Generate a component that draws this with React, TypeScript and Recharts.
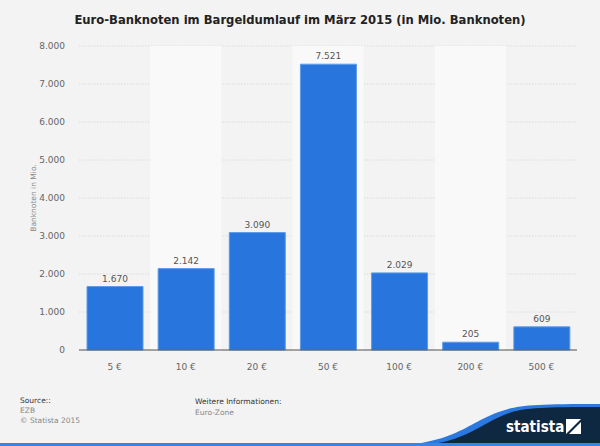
import { BarChart, Bar, XAxis, YAxis, CartesianGrid, ReferenceArea, LabelList, Label } from "recharts"

const categories = ["5 €", "10 €", "20 €", "50 €", "100 €", "200 €", "500 €"]
const banknotes = [1670, 2142, 3090, 7521, 2029, 205, 609]
const yTicks = [0, 1000, 2000, 3000, 4000, 5000, 6000, 7000, 8000]
const shadedCategories = ["10 €", "50 €", "200 €"]

const data = categories.map((c, i) => ({ name: c, value: banknotes[i] }))

const fmt = (v: number) => String(v).replace(/\B(?=(\d{3})+(?!\d))/g, ".")

const font = "'DejaVu Sans', sans-serif"

const App = () => {
  return (
    <div style={{ position: "absolute", left: 0, top: 0, width: 600, height: 446, background: "#f3f3f3", fontFamily: font, overflow: "hidden" }}>
      <div style={{ position: "absolute", top: 13, width: 600, textAlign: "center", fontSize: 11.6, fontWeight: "bold", color: "#222" }}>
        Euro-Banknoten im Bargeldumlauf im März 2015 (in Mio. Banknoten)
      </div>
      <BarChart
        width={600}
        height={446}
        data={data}
        margin={{ top: 46, right: 23, left: 29, bottom: 66 }}
        style={{ position: "absolute", left: 0, top: 0 }}
      >
        {shadedCategories.map((c) => (
          <ReferenceArea key={c} x1={c} x2={c} fill="#f9f9f9" fillOpacity={1} stroke="none" ifOverflow="extendDomain" />
        ))}
        <CartesianGrid vertical={false} stroke="#dadada" strokeDasharray="1.5 1.5" />
        <XAxis
          dataKey="name"
          tickLine={false}
          axisLine={{ stroke: "#555", strokeWidth: 1 }}
          tick={{ fontSize: 9, fill: "#666", fontFamily: font }}
          tickMargin={8}
        />
        <YAxis
          width={50}
          domain={[0, 8000]}
          ticks={yTicks}
          tickFormatter={fmt}
          axisLine={false}
          tickLine={false}
          tickSize={0}
          tickMargin={14}
          tick={{ fontSize: 9, fill: "#666", fontFamily: font }}
        >
          <Label value="Banknoten in Mio." angle={-90} position="insideLeft" offset={4} style={{ fontSize: 7.5, fill: "#888", fontFamily: font, textAnchor: "middle" }} />
        </YAxis>
        <Bar dataKey="value" fill="#2876dd" stroke="#5d9be8" strokeWidth={1} barSize={56} isAnimationActive={false}>
          <LabelList dataKey="value" position="top" offset={5} formatter={(v: any) => fmt(Number(v))} style={{ fontSize: 9, fill: "#555", fontFamily: font }} />
        </Bar>
      </BarChart>
      <div style={{ position: "absolute", left: 20, top: 396, fontSize: 7.5, lineHeight: "10px", color: "#333" }}>
        <div>Source::</div>
        <div style={{ color: "#888" }}>EZB</div>
        <div style={{ color: "#888" }}>© Statista 2015</div>
      </div>
      <div style={{ position: "absolute", left: 195, top: 396, fontSize: 7.5, lineHeight: "11px", color: "#333" }}>
        <div>Weitere Informationen:</div>
        <div style={{ color: "#888" }}>Euro-Zone</div>
      </div>
      <svg width={600} height={446} style={{ position: "absolute", left: 0, top: 0 }}>
        <path d="M395 446 C 460 442, 470 420, 505 410 C 520 405, 540 404, 600 404 L 600 446 Z" fill="#2a78e0" />
        <path d="M415 446 C 470 442, 480 422, 512 412 C 525 408, 545 407, 600 407 L 600 446 Z" fill="#0f2841" />
        <rect x={0} y={443} width={600} height={3} fill="#3b83e3" />
        <text x={506} y={432} fill="#fff" fontSize={15} fontWeight="bold" fontFamily="'DejaVu Sans Condensed', 'DejaVu Sans', sans-serif">statista</text>
        <path d="M566 419 L581 419 L566 434 Z" fill="#fff" />
        <path d="M581 422 L581 434 L569 434 Z" fill="#fff" />
      </svg>
    </div>
  )
}

export default App
